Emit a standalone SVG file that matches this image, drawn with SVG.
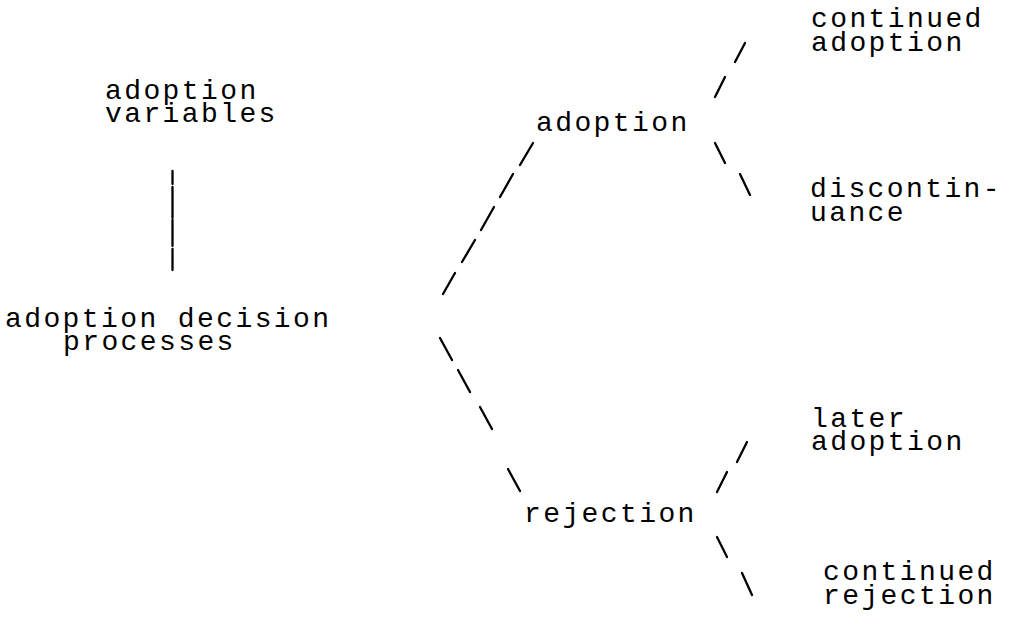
<svg xmlns="http://www.w3.org/2000/svg" width="1011" height="628" viewBox="0 0 1011 628">
  <style>
    .lbl { font-family: "Liberation Mono", "Courier New", monospace; font-size: 28px; letter-spacing: 2.4px; fill: #000; }
    .tick { stroke: #000; stroke-width: 2.3; stroke-linecap: round; fill: none; }
  </style>
  <rect x="0" y="0" width="1011" height="628" fill="#fff"/>

  <!-- connectors: typed strokes -->
  <g id="connectors" class="tick">
    <!-- variables to decision processes -->
    <line x1="172.5" y1="171" x2="172.5" y2="184"/>
    <line x1="172.5" y1="187" x2="172.5" y2="218"/>
    <line x1="172.5" y1="220" x2="172.5" y2="246"/>
    <line x1="172.5" y1="249" x2="172.5" y2="270"/>
    <!-- decision processes to adoption -->
    <line x1="533" y1="143" x2="520" y2="165"/>
    <line x1="513" y1="174" x2="500" y2="197"/>
    <line x1="494" y1="207" x2="481" y2="230"/>
    <line x1="475" y1="240" x2="462" y2="262"/>
    <line x1="455" y1="273" x2="443" y2="294"/>
    <!-- decision processes to rejection -->
    <line x1="440" y1="338" x2="452" y2="360"/>
    <line x1="458" y1="370" x2="470" y2="392"/>
    <line x1="480" y1="407" x2="492" y2="429"/>
    <line x1="508" y1="469" x2="520" y2="491"/>
    <!-- adoption to continued adoption / discontinuance -->
    <line x1="745" y1="43" x2="735" y2="62"/>
    <line x1="725" y1="77" x2="715" y2="97"/>
    <line x1="715" y1="143" x2="725" y2="163"/>
    <line x1="740" y1="174" x2="750" y2="195"/>
    <!-- rejection to later adoption / continued rejection -->
    <line x1="747" y1="442" x2="737" y2="462"/>
    <line x1="727" y1="472" x2="717" y2="492"/>
    <line x1="717" y1="537" x2="727" y2="557"/>
    <line x1="742" y1="573" x2="752" y2="595"/>
  </g>

  <g id="adoption-variables">
    <text class="lbl" x="105" y="99">adoption</text>
    <text class="lbl" x="105" y="122">variables</text>
  </g>
  <g id="adoption-decision-processes">
    <text class="lbl" x="5" y="327">adoption decision</text>
    <text class="lbl" x="63" y="350">processes</text>
  </g>
  <g id="adoption">
    <text class="lbl" x="536" y="131">adoption</text>
  </g>
  <g id="rejection">
    <text class="lbl" x="524" y="522">rejection</text>
  </g>
  <g id="continued-adoption">
    <text class="lbl" x="811" y="27">continued</text>
    <text class="lbl" x="811" y="51">adoption</text>
  </g>
  <g id="discontinuance">
    <text class="lbl" x="810" y="197">discontin-</text>
    <text class="lbl" x="810" y="221">uance</text>
  </g>
  <g id="later-adoption">
    <text class="lbl" x="811" y="427">later</text>
    <text class="lbl" x="811" y="450">adoption</text>
  </g>
  <g id="continued-rejection">
    <text class="lbl" x="823" y="580">continued</text>
    <text class="lbl" x="823" y="604">rejection</text>
  </g>
</svg>
